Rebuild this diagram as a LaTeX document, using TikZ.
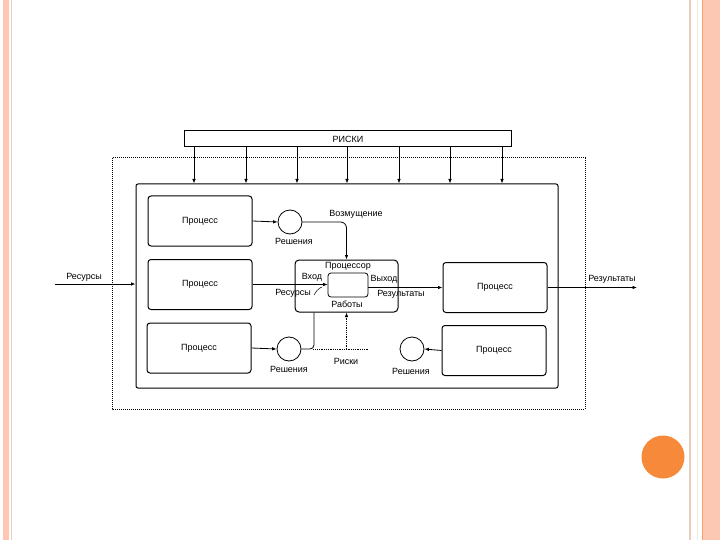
\documentclass[tikz,border=0pt]{standalone}
\usepackage{fontspec}
\setmainfont{Liberation Sans}
\usetikzlibrary{arrows.meta}
\definecolor{peach}{RGB}{252,200,180}
\definecolor{peachline}{RGB}{235,205,190}
\definecolor{slideorange}{RGB}{246,137,58}
\newcommand{\fs}{\fontsize{9}{10}\selectfont}
\tikzset{proc/.style={draw,rounded corners=3pt,line width=1pt,minimum width=104pt,minimum height=50pt,inner sep=0pt,font=\fs},
 sol/.style={circle,draw,line width=.8pt,minimum size=24pt,inner sep=0pt},
 arrow/.style={-{Latex[length=4.5pt,width=3.6pt]},line width=.8pt},
 lbl/.style={font=\fs,inner sep=1pt}}

\begin{document}
\begin{tikzpicture}[x=1pt,y=-1pt]
 \useasboundingbox[fill=white] (0,0) rectangle (720,540);
 % slide frame
 \fill[peach] (3,0) rectangle (9,540);
 \draw[peachline,line width=1pt] (11.5,0)--(11.5,540);
 \draw[peachline,line width=1.6pt] (690,0)--(690,540);
 \draw[peachline!50,line width=1pt] (697,0)--(697,540);
 \fill[peach] (702,0) rectangle (720,540);
 \draw[slideorange!80,line width=.8pt] (702,0)--(702,540);
 \fill[slideorange] (663,457) circle (21.5);
 % frames
 \draw[densely dotted,line width=1pt] (112,158) rectangle (585,409);
 \node[draw,rounded corners=2pt,line width=1pt,minimum width=422pt,minimum height=204pt] (sys) at (347,286) {};
 \node[draw,line width=1pt,minimum width=327pt,minimum height=16pt,inner sep=0pt,font=\fs] (riski) at (348,139) {РИСКИ};
 \foreach \x in {194,246,297,347,399,450,502}
  \draw[arrow] (riski.south -| \x,0) -- (sys.north -| \x,0);
 % processes
 \node[proc] (p1) at (200,221) {Процесс};
 \node[proc] (p2) at (200,284.5) {Процесс};
 \node[proc] (p3) at (199,348) {Процесс};
 \node[proc] (p4) at (495,287.5) {Процесс};
 \node[proc] (p5) at (494,350.5) {Процесс};
 \node[sol] (c1) at (290,222) {};
 \node[sol] (c2) at (289,349) {};
 \node[sol] (c3) at (412,349) {};
 \node[draw,rounded corners=4pt,line width=1pt,minimum width=103pt,minimum height=52pt] (proc) at (346.5,286) {};
 \node[draw,rounded corners=3pt,line width=.8pt,minimum width=40pt,minimum height=24pt] (work) at (348,285) {};
 \node[lbl] at (348,266) {Процессор};
 \node[lbl] at (312,277) {Вход};
 \node[lbl] at (384,279) {Выход};
 \node[lbl] at (293,293) {Ресурсы};
 \node[lbl] at (401,294) {Результаты};
 \node[lbl] at (347,304) {Работы};
 \node[lbl] at (294,241) {Решения};
 \node[lbl] at (289,369) {Решения};
 \node[lbl] at (411,371) {Решения};
 \node[lbl] at (356,214) {Возмущение};
 \node[lbl] at (346,361) {Риски};
 \node[lbl] at (84,277) {Ресурсы};
 \node[lbl] at (612,279) {Результаты};
 % connectors
 \coordinate (resin) at (55,284);
 \coordinate (resout) at (637,287.5);
 \coordinate (rk) at (proc.south |- c2.east);
 \draw[arrow] (resin) -- (sys.west |- resin);
 \draw[arrow] (p2.east) -- (work.west |- p2.east);
 \draw[arrow] (p1.east) -- (c1.west);
 \draw[arrow,rounded corners=6pt] (c1.east) -| (proc.north);
 \draw[arrow] (work.east |- p4.west) -- (p4.west);
 \draw[arrow] (p4.east) -- (resout);
 \draw[arrow] (p3.east) -- (c2.west);
 \draw[line width=.8pt,rounded corners=4pt] (c2.east) -| ([xshift=-32.5pt]proc.south);
 \draw[line width=.8pt,densely dotted] ([xshift=12pt]c2.east) -- ([xshift=22pt]rk);
 \draw[arrow,densely dotted] (rk) -- (proc.south);
 \draw[arrow] (p5.west) -- (c3.east);
 \draw[line width=.5pt,rounded corners=2pt] (314,295) -- (318,289) -- (322,287);
\end{tikzpicture}
\end{document}
